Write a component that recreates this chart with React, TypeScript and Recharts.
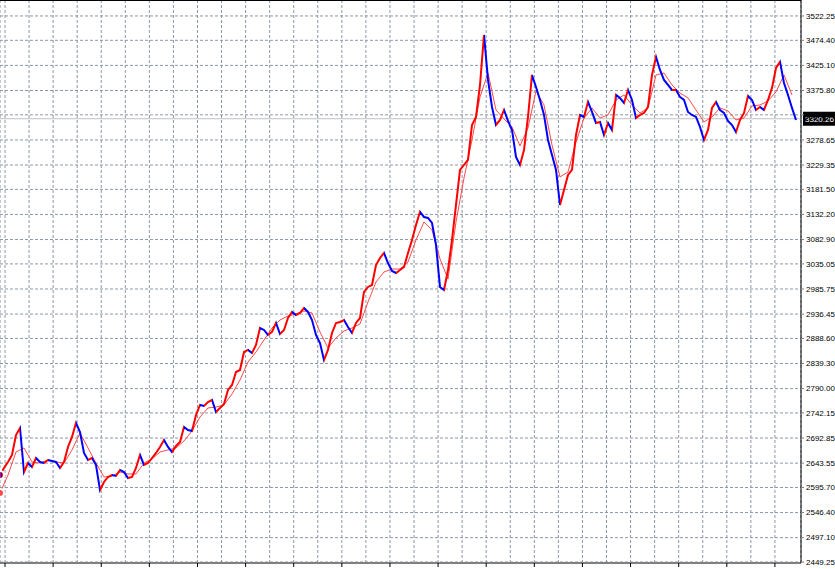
import {
  ComposedChart,
  Line,
  XAxis,
  YAxis,
  CartesianGrid,
  ReferenceLine,
} from "recharts";

// close prices, one every bar step
const closes: number[] = [
  2620.2, 2634.0, 2645.8, 2659.5, 2698.8, 2712.6, 2626.1, 2643.8, 2636.0, 2653.6,
  2645.8, 2643.8, 2649.7, 2647.7, 2645.8, 2634.0, 2645.8, 2675.3, 2694.9, 2722.4,
  2704.7, 2663.5, 2649.7, 2653.6, 2639.9, 2590.7, 2606.5, 2616.3, 2620.2, 2618.3,
  2630.1, 2626.1, 2614.3, 2616.3, 2634.0, 2659.5, 2639.9, 2643.8, 2653.6, 2663.5,
  2675.3, 2689.0, 2675.3, 2665.4, 2677.2, 2685.1, 2714.6, 2708.7, 2706.7, 2738.1,
  2757.8, 2755.8, 2763.7, 2767.6, 2744.0, 2751.9, 2759.7, 2787.3, 2797.1, 2822.6,
  2826.6, 2861.9, 2865.9, 2860.0, 2875.7, 2909.1, 2905.2, 2895.4, 2901.3, 2918.9,
  2897.3, 2905.2, 2928.8, 2940.6, 2934.7, 2938.6, 2948.4, 2940.6, 2924.8, 2895.4,
  2879.6, 2846.2, 2865.9, 2899.3, 2918.9, 2920.9, 2924.8, 2911.1, 2899.3, 2918.9,
  2928.8, 2979.9, 2989.7, 2993.6, 3032.9, 3046.7, 3056.5, 3036.8, 3021.1, 3017.2,
  3023.1, 3029.0, 3056.5, 3082.0, 3111.5, 3137.1, 3127.2, 3125.3, 3115.4, 3072.2,
  2989.7, 2983.8, 3023.1, 3082.0, 3150.8, 3219.6, 3229.4, 3239.3, 3308.0, 3323.8,
  3386.6, 3484.9, 3396.5, 3343.4, 3308.0, 3317.9, 3337.5, 3315.9, 3298.2, 3245.2,
  3229.4, 3258.9, 3323.8, 3406.3, 3382.7, 3357.2, 3327.7, 3278.6, 3249.1, 3219.6,
  3150.8, 3180.3, 3209.8, 3219.6, 3288.4, 3327.7, 3323.8, 3353.2, 3333.6, 3312.0,
  3313.9, 3288.4, 3312.0, 3298.2, 3367.0, 3361.0, 3351.3, 3376.8, 3357.2, 3321.8,
  3327.7, 3331.6, 3343.4, 3406.3, 3441.7, 3416.1, 3396.5, 3386.6, 3376.8, 3376.8,
  3363.1, 3357.2, 3333.6, 3327.7, 3323.8, 3304.1, 3278.6, 3298.2, 3341.5, 3353.2,
  3337.5, 3331.6, 3315.9, 3308.0, 3294.3, 3317.9, 3331.6, 3365.1, 3357.2, 3337.5,
  3343.4, 3337.5, 3357.2, 3380.8, 3420.1, 3431.9, 3390.6, 3367.0, 3341.5, 3317.9,
];

// moving average, read at every second bar
const maValues: number[] = [
  2584.9, 2620.2, 2665.4, 2673.3, 2645.8, 2643.8, 2649.7, 2645.8, 2643.8, 2669.4,
  2702.8, 2673.3, 2643.8, 2616.3, 2618.3, 2626.1, 2622.2, 2622.2, 2643.8, 2651.7,
  2665.4, 2669.4, 2673.3, 2687.1, 2706.7, 2734.2, 2751.9, 2753.8, 2757.8, 2779.4,
  2806.9, 2842.3, 2861.9, 2885.5, 2909.1, 2924.8, 2932.7, 2936.6, 2942.5, 2938.6,
  2901.3, 2869.8, 2889.4, 2903.2, 2909.1, 2917.0, 2960.2, 2999.5, 3019.1, 3025.0,
  3025.0, 3038.8, 3082.0, 3117.4, 3101.7, 3044.7, 3005.4, 3117.4, 3203.9, 3278.6,
  3363.1, 3410.2, 3337.5, 3319.8, 3304.1, 3266.8, 3302.2, 3374.9, 3347.3, 3268.8,
  3205.9, 3215.7, 3274.6, 3321.8, 3341.5, 3321.8, 3327.7, 3357.2, 3367.0, 3347.3,
  3331.6, 3341.5, 3406.3, 3410.2, 3386.6, 3370.9, 3361.1, 3337.5, 3313.9, 3323.8,
  3341.5, 3335.5, 3317.9, 3321.8, 3345.4, 3347.3, 3355.2, 3372.9, 3406.3, 3367.0,
];

const priceTicks = [
  2449.25, 2497.1, 2546.4, 2595.7, 2643.55, 2692.85, 2742.15, 2790.0, 2839.3,
  2888.6, 2936.45, 2985.75, 3035.05, 3082.9, 3132.2, 3181.5, 3229.35, 3278.65,
  3327.95, 3375.8, 3425.1, 3474.4, 3522.25,
];

const dateLabels = [
  "18 Nov 2024", "3 Dec 2024", "19 Dec 2024", "3 Jan 2025", "20 Jan 2025",
  "4 Feb 2025", "19 Feb 2025", "7 Mar 2025", "24 Mar 2025", "7 Apr 2025",
  "23 Apr 2025", "8 May 2025", "23 May 2025", "9 Jun 2025", "24 Jun 2025",
  "9 Jul 2025", "24 Jul 2025",
];

const lastPrice = 3320.26;

const Y_MIN = 2447.3;
const Y_MAX = 3553.6;
const X_MAX = 200.25;
const TICK0 = 1.25; // first grid line, in bar units
const TICK_STEP = 6.015; // grid spacing, in bar units

const data = closes.map((c, i) => ({
  i,
  close: c,
  ma: i % 2 === 0 ? maValues[i / 2] : null,
}));

const xTicks = Array.from(
  { length: dateLabels.length * 2 - 1 },
  (_, k) => TICK0 + k * TICK_STEP
);

// red for rising segments, blue for falling ones
const last = closes.length - 1;
const stops = closes.slice(1).flatMap((c, i) => {
  const color = c >= closes[i] ? "#ff0000" : "#0000ff";
  return [
    <stop key={`a${i}`} offset={i / last} stopColor={color} />,
    <stop key={`b${i}`} offset={(i + 1) / last} stopColor={color} />,
  ];
});

const FONT = "Tahoma, 'Liberation Sans', sans-serif";

function DateTick(props: any) {
  const { x, y, index } = props;
  if (index % 2 !== 0) return <g />;
  return (
    <g>
      <line x1={x} y1={y} x2={x} y2={y + 4} stroke="#000" />
      <text x={x + 2} y={y + 12} fontSize={8} fontFamily={FONT} fill="#000">
        {dateLabels[index / 2]}
      </text>
    </g>
  );
}

function PriceTag(props: any) {
  const { viewBox } = props;
  const x = viewBox.x + viewBox.width + 2;
  const y = viewBox.y;
  return (
    <g>
      <rect x={x} y={y - 7} width={34} height={14} fill="#000" />
      <text
        x={x + 2}
        y={y + 3}
        fontSize={8}
        fontFamily={FONT}
        fill="#fff"
      >
        {lastPrice.toFixed(2)}
      </text>
    </g>
  );
}

export default function App() {
  return (
    <div style={{ position: "absolute", left: 0, top: 0, background: "#fff" }}>
      <ComposedChart
        width={835}
        height={580}
        data={data}
        margin={{ top: 0, right: 0, bottom: 0, left: 0 }}
      >
        <defs>
          <linearGradient id="upDown" x1="0" y1="0" x2="1" y2="0">
            {stops}
          </linearGradient>
        </defs>
        <CartesianGrid stroke="#8c97a4" strokeDasharray="3 2" />
        <XAxis
          dataKey="i"
          type="number"
          domain={[0, X_MAX]}
          ticks={xTicks}
          interval={0}
          height={17}
          tickSize={0}
          tickMargin={0}
          tickLine={false}
          tick={(p: any) => <DateTick {...p} />}
          axisLine={{ stroke: "#808080", strokeWidth: 2 }}
          allowDataOverflow
        />
        <YAxis
          orientation="right"
          domain={[Y_MIN, Y_MAX]}
          ticks={priceTicks}
          interval={0}
          width={34}
          tickSize={3}
          tickMargin={2}
          tickLine={{ stroke: "#808080" }}
          tick={{ fontSize: 8, fill: "#000", fontFamily: FONT }}
          tickFormatter={(v: number) => v.toFixed(2)}
          axisLine={{ stroke: "#000" }}
          allowDataOverflow
        />
        <ReferenceLine y={Y_MAX} stroke="#000" strokeWidth={2} />
        <ReferenceLine
          y={lastPrice}
          stroke="#c0c0c0"
          label={(p: any) => <PriceTag {...p} />}
        />
        <Line
          type="linear"
          dataKey="ma"
          stroke="#ff4a4a"
          strokeWidth={1}
          dot={false}
          connectNulls
          isAnimationActive={false}
        />
        <Line
          type="linear"
          dataKey="close"
          stroke="url(#upDown)"
          strokeWidth={2}
          dot={false}
          isAnimationActive={false}
        />
      </ComposedChart>
    </div>
  );
}
